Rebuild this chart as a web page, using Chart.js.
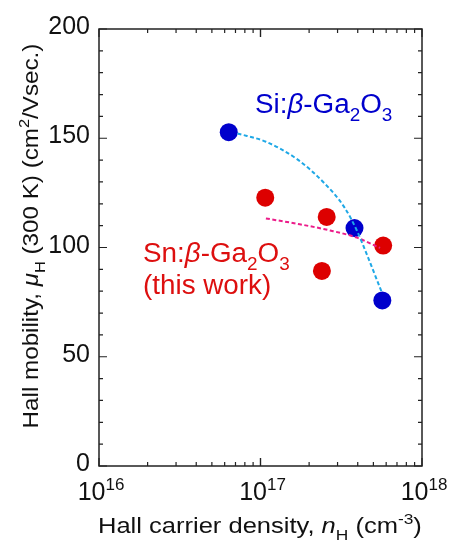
<!DOCTYPE html>
<html>
<head>
<meta charset="utf-8">
<script src="https://cdn.jsdelivr.net/npm/chart.js@4"></script>
<style>
  html, body { margin: 0; padding: 0; background: #fff; }
  #c { display: block; }
</style>
</head>
<body>
<canvas id="c" width="450" height="542"></canvas>
<script>
// measured data (cm^-3, cm^2/Vs)
const siDensity = [6.36e16, 3.82e17, 5.68e17]
const siMobility = [152.8, 108.9, 75.8]
const snDensity = [1.07e17, 2.57e17, 2.40e17, 5.75e17]
const snMobility = [122.8, 114.0, 89.3, 100.9]

// guide-to-eye dashed curves
const siFitDensity = [7.2e16, 1.08e17, 1.70e17, 2.48e17, 3.30e17, 3.95e17, 4.6e17, 5.6e17]
const siFitMobility = [152.2, 148.4, 140.2, 129.5, 118.5, 107.8, 96.0, 80.0]
const snFitDensity = [1.08e17, 1.67e17, 2.70e17, 3.95e17, 5.5e17]
const snFitMobility = [113.3, 110.9, 107.8, 104.5, 99.8]

// axes
const yTickLabels = [0, 50, 100, 150, 200]
const xTickExponents = [16, 17, 18]

const FONT = '"Liberation Sans", Arial, Helvetica, sans-serif'
const toPts = (xs, ys) => xs.map((x, i) => ({ x: x, y: ys[i] }))

// draw text made of segments: {t, it, sub, sup}
function richText(ctx, segs, x, y, size, color, align, stretch, rot) {
  ctx.save()
  ctx.translate(x, y)
  if (rot) ctx.rotate(rot)
  ctx.scale(stretch || 1, 1)
  ctx.fillStyle = color
  ctx.textBaseline = 'alphabetic'
  const fontFor = (s) => {
    const sz = (s.sub || s.sup) ? size * 0.68 : size
    return (s.it ? 'italic ' : '') + sz + 'px ' + FONT
  }
  let w = 0
  segs.forEach(s => { ctx.font = fontFor(s); w += ctx.measureText(s.t).width })
  let cx = align === 'center' ? -w / 2 : align === 'right' ? -w : 0
  segs.forEach(s => {
    ctx.font = fontFor(s)
    let dy = s.sub ? size * 0.3 : s.sup ? -size * 0.42 : 0
    ctx.fillText(s.t, cx, dy)
    cx += ctx.measureText(s.t).width
  })
  ctx.restore()
}

const framePlugin = {
  id: 'frame',
  afterDatasetsDraw(chart) {
    const ctx = chart.ctx
    const xs = chart.scales.x
    const ys = chart.scales.y
    const a = chart.chartArea
    ctx.save()
    ctx.strokeStyle = '#222'
    ctx.lineWidth = 1.2
    // y ticks (every 10, longer every 50), both sides
    for (let v = 0; v <= 200; v += 10) {
      const py = ys.getPixelForValue(v)
      const len = v % 50 === 0 ? 8 : 4
      ctx.beginPath()
      ctx.moveTo(a.left, py); ctx.lineTo(a.left + len, py)
      ctx.moveTo(a.right, py); ctx.lineTo(a.right - len, py)
      ctx.stroke()
    }
    // x log ticks, both sides
    for (let e = 16; e <= 17; e++) {
      for (let m = 1; m <= 10; m++) {
        const px = xs.getPixelForValue(m * Math.pow(10, e))
        const len = (m === 1 || m === 10) ? 8 : 4
        ctx.beginPath()
        ctx.moveTo(px, a.bottom); ctx.lineTo(px, a.bottom - len)
        ctx.moveTo(px, a.top); ctx.lineTo(px, a.top + len)
        ctx.stroke()
      }
    }
    ctx.lineWidth = 1.5
    ctx.strokeRect(a.left, a.top, a.right - a.left, a.bottom - a.top)
    ctx.restore()

    // tick labels
    yTickLabels.forEach(v => {
      richText(ctx, [{ t: String(v) }], a.left - 9, ys.getPixelForValue(v) + 5, 25, '#111', 'right', 1.0)
    })
    xTickExponents.forEach(e => {
      richText(ctx, [{ t: '10' }, { t: String(e), sup: true }], xs.getPixelForValue(Math.pow(10, e)) + 2, 500, 25, '#111', 'center', 1.0)
    })

    // axis titles
    richText(ctx, [
      { t: 'Hall carrier density, ' }, { t: 'n', it: true }, { t: 'H', sub: true },
      { t: ' (cm' }, { t: '-3', sup: true }, { t: ')' }
    ], 98, 533, 22, '#111', 'left', 1.16)
    richText(ctx, [
      { t: 'Hall mobility, ' }, { t: 'μ', it: true }, { t: 'H', sub: true },
      { t: ' (300 K) (cm' }, { t: '2', sup: true }, { t: '/Vsec.)' }
    ], 38, 236, 22, '#111', 'center', 1.1, -Math.PI / 2)

    // series labels
    richText(ctx, [
      { t: 'Si:' }, { t: 'β', it: true }, { t: '-Ga' }, { t: '2', sub: true }, { t: 'O' }, { t: '3', sub: true }
    ], 255, 113, 27, '#0000cc', 'left', 1.03)
    richText(ctx, [
      { t: 'Sn:' }, { t: 'β', it: true }, { t: '-Ga' }, { t: '2', sub: true }, { t: 'O' }, { t: '3', sub: true }
    ], 143, 262, 27, '#dd0f0f', 'left', 1.03)
    richText(ctx, [{ t: '(this work)' }], 143, 294, 27, '#dd0f0f', 'left', 1.03)
  }
}

new Chart(document.getElementById('c'), {
  type: 'scatter',
  data: {
    datasets: [
      {
        data: toPts(siFitDensity, siFitMobility),
        showLine: true,
        borderColor: '#1fa8e6',
        borderWidth: 2,
        borderDash: [4, 2.5],
        cubicInterpolationMode: 'monotone',
        pointRadius: 0
      },
      {
        data: toPts(snFitDensity, snFitMobility),
        showLine: true,
        borderColor: '#ec1c8a',
        borderWidth: 2,
        borderDash: [4, 2.5],
        cubicInterpolationMode: 'monotone',
        pointRadius: 0
      },
      {
        data: toPts(siDensity, siMobility),
        backgroundColor: '#0000cc',
        borderWidth: 0,
        pointRadius: 9
      },
      {
        data: toPts(snDensity, snMobility),
        backgroundColor: '#dd0000',
        borderWidth: 0,
        pointRadius: 9
      }
    ]
  },
  options: {
    responsive: false,
    animation: false,
    layout: { padding: { left: 99, right: 28, top: 29, bottom: 76 } },
    plugins: { legend: { display: false }, tooltip: { enabled: false } },
    scales: {
      x: { type: 'logarithmic', min: 1e16, max: 1e18, display: false },
      y: { type: 'linear', min: 0, max: 200, display: false }
    }
  },
  plugins: [framePlugin]
})
</script>
</body>
</html>
